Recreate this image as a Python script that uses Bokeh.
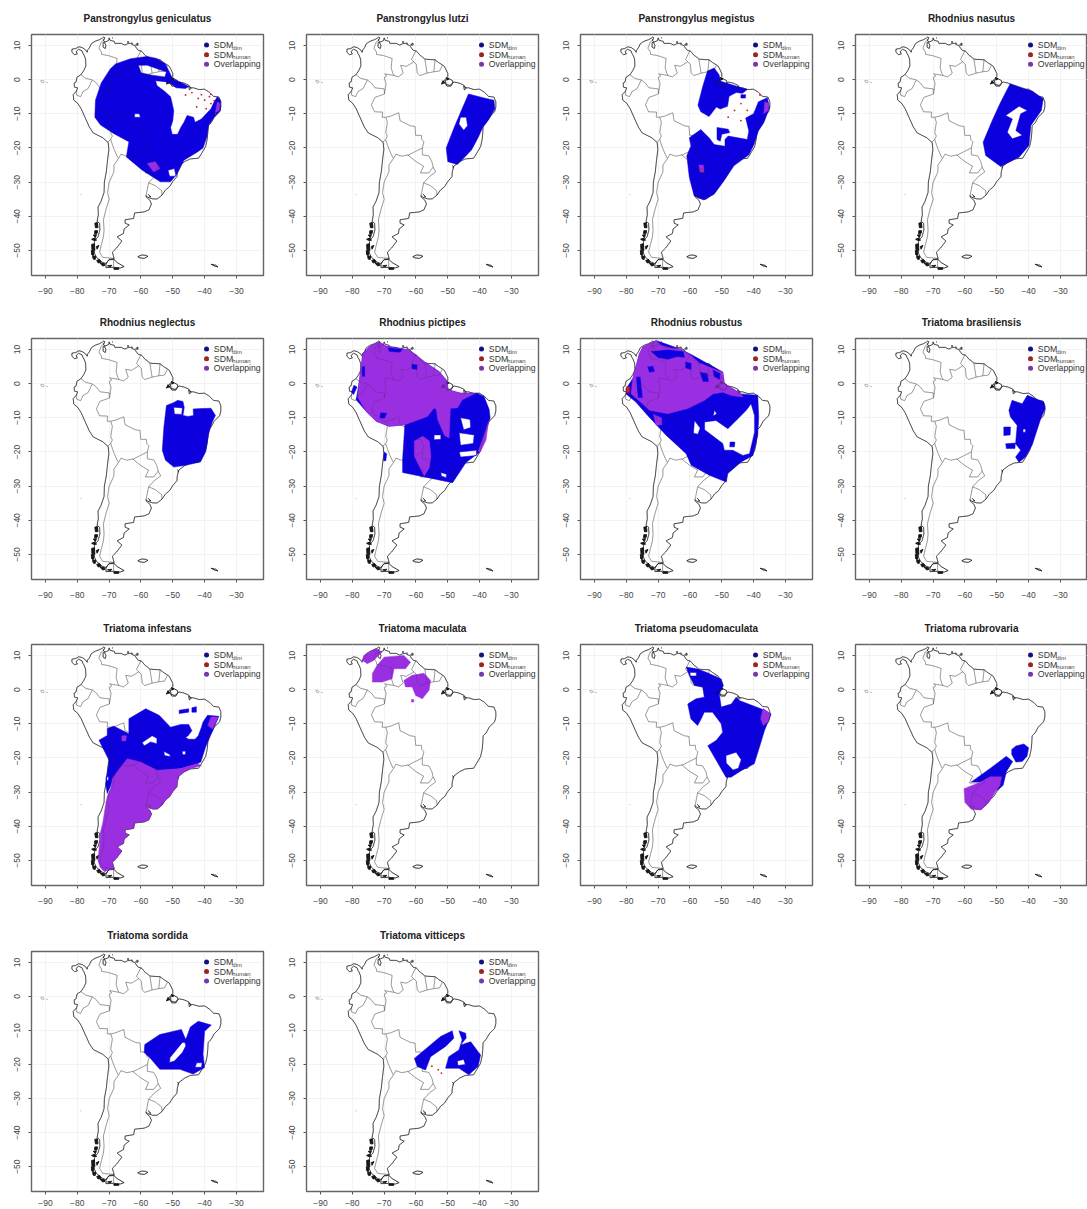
from bokeh.plotting import figure
from bokeh.layouts import column, row
from bokeh.models import Range1d, FixedTicker, Label
from bokeh.embed import file_html
from bokeh.resources import INLINE

# ---------------- base map, lon/lat ----------------
COAST_MAIN = [(-81.7,8.9),(-80.5,9.1),(-79.6,9.6),(-78.5,9.4),(-77.4,8.7),(-76.9,8.0),(-76.8,8.6),(-76.2,9.3),(-75.6,10.5),(-74.8,11.0),(-74.2,11.3),(-73.0,11.7),(-72.2,12.1),(-71.7,12.45),(-71.3,12.2),(-71.9,11.6),(-71.4,11.0),(-71.9,10.8),(-71.9,9.5),(-71.2,9.1),(-71.0,10.0),(-71.5,10.9),(-70.2,11.4),(-70.0,12.2),(-69.7,11.5),(-68.4,11.2),(-68.2,10.6),(-66.2,10.6),(-65.1,10.1),(-64.2,10.5),(-62.7,10.7),(-62.9,10.3),(-62.0,10.0),(-60.9,8.6),(-59.8,8.3),(-58.6,7.0),(-58.2,6.8),(-57.2,6.0),(-55.9,5.9),(-54.0,5.8),(-52.9,5.0),(-51.7,4.3),(-51.1,3.9),(-50.0,1.8),(-50.0,0.9),(-50.8,0.1),(-51.4,-0.6),(-50.9,-1.0),(-50.3,-1.9),(-49.0,-1.9),(-48.5,-1.0),(-48.0,-0.7),(-46.5,-1.0),(-45.0,-1.6),(-44.4,-2.4),(-43.5,-2.4),(-41.8,-2.9),(-40.0,-2.8),(-38.5,-3.7),(-37.2,-4.9),(-35.5,-5.1),(-34.9,-6.5),(-34.9,-8.0),(-35.3,-9.4),(-37.0,-11.0),(-38.0,-12.7),(-38.9,-13.5),(-39.0,-15.5),(-39.2,-17.5),(-39.7,-19.6),(-40.9,-21.5),(-41.9,-23.0),(-44.5,-23.2),(-46.3,-24.0),(-48.1,-25.3),(-48.6,-27.0),(-48.7,-28.4),(-50.0,-29.8),(-51.0,-31.3),(-52.3,-32.3),(-53.4,-33.8),(-54.9,-34.9),(-56.3,-34.9),(-57.9,-34.4),(-58.4,-33.9),(-58.4,-34.3),(-57.2,-35.3),(-56.7,-36.4),(-57.5,-38.1),(-59.0,-38.7),(-62.0,-39.0),(-62.3,-40.6),(-65.0,-41.0),(-65.0,-42.0),(-63.7,-42.5),(-65.3,-43.7),(-65.5,-45.0),(-67.5,-46.0),(-66.0,-47.2),(-67.7,-49.3),(-69.0,-50.5),(-68.4,-52.4),(-70.0,-52.6),(-71.0,-53.8),(-72.0,-53.5),(-74.0,-52.0),(-75.0,-50.0),(-74.5,-47.0),(-73.5,-46.0),(-72.9,-44.0),(-73.0,-42.0),(-73.8,-41.5),(-73.4,-39.5),(-73.5,-37.3),(-72.5,-35.5),(-71.6,-33.0),(-71.5,-30.0),(-70.9,-27.0),(-70.5,-23.5),(-70.1,-20.5),(-70.3,-18.4),(-72.0,-17.0),(-75.0,-15.6),(-76.2,-13.9),(-77.6,-11.0),(-78.8,-8.5),(-79.9,-6.9),(-81.1,-6.0),(-81.3,-4.4),(-80.3,-3.4),(-79.9,-2.4),(-80.9,-2.2),(-81.0,-1.0),(-80.4,-0.7),(-80.1,0.7),(-78.9,1.4),(-78.0,2.6),(-77.3,4.0),(-77.4,6.0),(-77.9,7.2),(-78.2,7.6),(-78.5,8.4),(-79.6,8.9),(-80.4,8.2),(-80.0,7.5),(-80.9,7.3),(-81.7,8.0),(-81.7,8.9)]
FJORD_ISLANDS = [
 [(-74.5,-42),(-73.7,-41.8),(-73.5,-43.3),(-74.3,-43.3),(-74.5,-42)],
 [(-74.5,-44.2),(-73.6,-44.2),(-73.8,-45),(-74.6,-45),(-74.5,-44.2)],
 [(-75,-45.5),(-74,-45.3),(-74.3,-46.2),(-75,-45.5)],
 [(-75.5,-46.7),(-74.5,-46.3),(-74,-47),(-75,-47),(-75.5,-46.7)],
 [(-75.5,-48.2),(-74.6,-48),(-74.5,-50),(-75.4,-49.8),(-75.5,-48.2)],
 [(-75.6,-50),(-74.7,-50.2),(-75,-51.5),(-75.5,-51.2),(-75.6,-50)],
 [(-75.2,-51.7),(-74.2,-51.6),(-74.4,-52.6),(-75,-52.5),(-75.2,-51.7)],
 [(-73.9,-52.9),(-73,-52.6),(-72.5,-53.5),(-73.5,-53.6),(-73.9,-52.9)],
 [(-72.8,-53.8),(-71.6,-53.7),(-71.3,-54.3),(-72,-54.5),(-72.8,-53.8)],
 [(-70.5,-54.5),(-69.2,-54.3),(-69.5,-54.7),(-70.5,-54.5)],
 [(-73.2,-48.5),(-74,-48.8),(-73.8,-49.6),(-73.2,-48.5)],
 [(-68.5,-55.1),(-67,-55.1),(-67,-55.5),(-68.5,-55.5),(-68.5,-55.1)],
 [(-51.5,-0.3),(-50.9,-0.9),(-52,-1.3),(-51.5,-0.3)],
 [(-50.4,0.6),(-49.6,0.3),(-50.2,-0.1),(-50.4,0.6)],
]
ISLANDS = [
 [(-70,-52.7),(-68.5,-52.6),(-67.5,-53.5),(-65.3,-54.7),(-66.5,-55.1),(-68.6,-54.9),(-71,-55),(-71,-54),(-70.5,-53.2),(-70,-52.7)],
 [(-61,-51.8),(-59.8,-51.3),(-58.5,-51.4),(-57.8,-51.7),(-59,-52.3),(-60.5,-52.1),(-61,-51.8)],
 [(-38,-54),(-36.5,-54.3),(-35.8,-54.8),(-37,-54.5),(-38,-54)],
 [(-50.8,-0.2),(-49.5,0.2),(-48.5,-0.3),(-48.4,-1),(-49.3,-1.7),(-50.5,-1.4),(-50.8,-0.2)],
 [(-45,-1.9),(-44.2,-2.5),(-44.8,-3.0),(-45,-1.9)],
 [(-61.7,10.2),(-61,10.7),(-60.9,10.1),(-61.7,10.1)],
 [(-64.3,11),(-63.9,11.1),(-63.9,10.9),(-64.3,11)],
 [(-69.1,12.3),(-68.8,12.1)],
 [(-48.6,-25.2),(-48.1,-25.6),(-48.5,-25.8)],
 [(-57.8,-33.5),(-56.9,-34.3),(-57.4,-34.2)],
]
FAINT_ISLANDS = [
 [(-91.5,-0.3),(-90.8,-0.2),(-90.4,-0.7),(-91,-1),(-91.5,-0.3)],
 [(-89.8,-0.8),(-89.3,-0.9)],
 [(-79,-33.6),(-78.7,-33.7)],
]
BORDERS = [
 [(-71.3,11.8),(-72.5,11),(-73.2,9.2),(-72.4,8),(-72.4,7.4),(-70.1,7),(-67.5,6.2),(-67.8,3.5),(-67.3,1.9),(-66.9,1.2)],
 [(-66.9,1.2),(-65.5,0.8),(-64,1.9),(-64.8,4.2),(-63,3.9),(-60.7,5.2)],
 [(-60.7,5.2),(-61.4,5.9),(-60.0,8.5)],
 [(-60.7,5.2),(-59.9,4.5),(-59.6,1.9),(-58.8,1.2),(-56.5,1.9)],
 [(-56.5,1.9),(-57.2,5.9)],
 [(-54.0,5.8),(-54.4,2.3)],
 [(-56.5,1.9),(-54.4,2.3),(-52.6,2.5),(-51.7,4.2)],
 [(-66.9,1.2),(-69.8,1.7),(-69.2,1.0),(-70,0.6),(-69.4,-1.1),(-69.9,-4.2)],
 [(-78.8,1.4),(-77.4,0.4),(-75.3,-0.1)],
 [(-75.3,-0.1),(-74,-1),(-72.9,-2.4),(-70,-2.7),(-69.9,-4.2)],
 [(-80.3,-3.4),(-80.3,-4.5),(-79,-5),(-78.2,-3.5),(-76.6,-2.6),(-75.3,-0.1)],
 [(-69.9,-4.2),(-72.9,-5.2),(-74,-7.4),(-73,-9.4),(-70.5,-9.5),(-70.6,-11)],
 [(-70.6,-11),(-69.5,-11),(-69.0,-12.5),(-69.5,-15.5),(-69,-16.5),(-69.5,-17.5)],
 [(-69.5,-11),(-68,-10.7),(-65.4,-9.7),(-65,-12),(-61.8,-13.5),(-60.3,-13.7),(-60.1,-16.3),(-58.3,-16.3),(-58.2,-17.5),(-57.5,-18.2),(-58,-20)],
 [(-58,-20),(-62.3,-22),(-64.5,-22.4),(-66.3,-21.8),(-67,-23)],
 [(-69.5,-17.5),(-69,-19),(-68.4,-20.5),(-67.2,-23)],
 [(-70.4,-18.3),(-69.5,-17.5)],
 [(-67,-23),(-68.5,-25),(-68.5,-27),(-70,-30),(-70.5,-33),(-70,-35),(-71,-38),(-71.8,-41),(-71.6,-44),(-71.8,-46),(-72.5,-48.5),(-73,-50.5),(-72,-52),(-68.5,-52.3)],
 [(-68.6,-52.6),(-68.6,-54.9)],
 [(-62.6,-22),(-60,-24),(-57.6,-25.3),(-58.6,-27.3),(-56,-27.3),(-54.6,-25.6)],
 [(-58,-20),(-58,-22),(-56,-22.3),(-55,-24),(-54.6,-25.6)],
 [(-54.6,-25.6),(-53.8,-27),(-55.7,-28.3),(-57.6,-30.2)],
 [(-57.6,-30.2),(-58.2,-33),(-58.4,-33.9)],
 [(-57.6,-30.2),(-55.5,-31),(-53.5,-32.5),(-53.4,-33.8)],
]

# ---------------- chart labels ----------------
X_TICKS = [-90,-80,-70,-60,-50,-40,-30]
Y_TICKS = [-50,-40,-30,-20,-10,0,10]
LEGEND_MAIN = ["SDM","SDM","Overlapping"]
LEGEND_SUB = ["dim","human"]
TITLES = ["Panstrongylus geniculatus","Panstrongylus lutzi","Panstrongylus megistus","Rhodnius nasutus",
          "Rhodnius neglectus","Rhodnius pictipes","Rhodnius robustus","Triatoma brasiliensis",
          "Triatoma infestans","Triatoma maculata","Triatoma pseudomaculata","Triatoma rubrovaria",
          "Triatoma sordida","Triatoma vitticeps"]

# ---------------- species ranges: polygon = [outer ring, hole, hole...] ----------------
GENICULATUS_DIM = [[
 [(-58.1,6.8),(-55,6.2),(-52.3,4.6),(-50.7,1.5),(-50,0.2),(-47.5,-0.8),(-45,-2),(-46,-2.6),(-49,-2.4),(-50.5,-1.2),(-52.5,-0.6),(-55.4,-0.3),(-55,-1.7),(-52.5,-3.5),(-50.7,-5),(-49.7,-9),(-50,-12),(-50.7,-14),(-50.2,-16),(-48.5,-16),(-47.5,-14),(-46.5,-12.5),(-45.5,-10.5),(-43.5,-11),(-43,-12.5),(-41,-11.5),(-40,-10.5),(-38,-8.5),(-37,-6.5),(-36,-5),(-35,-6),(-35,-9),(-37,-11),(-38.7,-13.3),(-39.3,-16.8),(-40.5,-20),(-42,-21),(-46.5,-23.6),(-48.6,-27.5),(-50.7,-29.9),(-53.9,-29.9),(-59.6,-26.5),(-64.6,-22.6),(-63.8,-18.2),(-68.5,-15.8),(-72.7,-13.3),(-74.5,-11),(-74.3,-6),(-72.5,-1),(-69.6,3.2),(-68,4.6),(-63.3,6.1)],
 [(-60.8,4.2),(-58,4.2),(-52,2.2),(-52.5,0.8),(-56.5,1.3),(-60,2)],
 [(-62,-10),(-60.5,-10),(-60.2,-11),(-62,-11)],
 [(-51.5,-26.5),(-49.5,-26),(-49,-28.2),(-51,-28.3)],
]]
GENICULATUS_OVER = [[[(-58,-24.5),(-55.5,-24),(-54,-26),(-56,-27)]], [[(-36,-6.5),(-35.2,-7),(-35.4,-9),(-36.6,-9.6)]]]
GENICULATUS_RED = [(-44,-3.8),(-42,-5.5),(-41,-4.4),(-40,-6),(-38.5,-5),(-38,-7),(-37,-6.2),(-42.5,-8),(-39.5,-8.5),(-46,-4.5),(-36.5,-10),(-38,-4.3)]

LUTZI_DIM = [[
 [(-43.5,-4.2),(-38,-5.5),(-35.5,-6),(-35.2,-8.5),(-37,-11.5),(-39,-14),(-40.5,-17),(-42.5,-20.5),(-44.5,-22.5),(-47,-24.8),(-50,-24),(-50.5,-20),(-48,-14),(-45.5,-8.5)],
 [(-46,-11),(-44.2,-11),(-43.8,-13.5),(-45,-14.8),(-46.5,-13)],
]]

MEGISTUS_DIM = [
 [[(-52.4,3.4),(-50.9,1.5),(-50.3,-0.5),(-45.1,-2),(-42,-2.9),(-43.5,-4),(-45.5,-3.8),(-47.7,-4.9),(-48.2,-7.8),(-50.5,-8.6),(-51.7,-8),(-54,-10.8),(-56.6,-9.4),(-57.5,-7.5),(-56,-2),(-54.5,2.5)]],
 [[(-35.7,-5.3),(-35,-8.2),(-36.8,-12.6),(-38.5,-15),(-39.9,-19),(-41.5,-22),(-46.2,-25.2),(-49.3,-29.6),(-52.4,-33.5),(-55.6,-35.2),(-58.7,-34),(-60.2,-28.6),(-61,-22.3),(-59.7,-19.4),(-60.2,-17),(-56.6,-14.6),(-54,-17),(-52.4,-19),(-49,-19.5),(-49,-17.5),(-48,-16.5),(-45,-17),(-42,-17.5),(-41.5,-15),(-42.5,-11.2),(-40,-10),(-38.5,-6.5)]],
 [[(-51.5,-14),(-48,-14.5),(-47.5,-15.5),(-50,-16),(-50.5,-18),(-51.5,-17.5)]],
 [[(-44,-4.4),(-42.5,-4.4),(-42.6,-5.4),(-44,-5.4)]],
]
MEGISTUS_OVER = [[[(-36.5,-6.5),(-35.2,-7),(-35.4,-9),(-36.8,-10)]], [[(-57.2,-25),(-55.8,-25),(-55.6,-27),(-56.8,-27)]]]
MEGISTUS_RED = [(-56.5,-26.2),(-56,-27),(-44,-7),(-46,-9),(-42,-9),(-48,-11),(-44,-12),(-38,-4.5)]

NASUTUS_DIM = [[
 [(-45.8,-1.2),(-38.8,-3.4),(-35.4,-5.6),(-36,-9),(-39.3,-13.4),(-39.9,-19.3),(-43,-22.7),(-48.8,-25.4),(-53.5,-22.2),(-54.3,-18.3),(-51.4,-11.9),(-48.8,-6.6)],
 [(-43,-7.8),(-40.4,-9),(-42.5,-10),(-44,-14.9),(-42,-16.3),(-45.1,-17.3),(-46.7,-15.4),(-45.1,-11.5),(-47.2,-10.5)],
]]

NEGLECTUS_DIM = [[
 [(-52,-6.4),(-49.6,-5.5),(-48.5,-4.9),(-46.8,-5.2),(-46.4,-7),(-46.8,-9.3),(-45.2,-9.6),(-43.5,-9.3),(-43.6,-7.4),(-41,-7.3),(-38,-7.2),(-36.6,-9.3),(-37.6,-11.2),(-38.7,-14.6),(-39.7,-20),(-41.3,-22.9),(-46,-23.9),(-49.7,-24.4),(-52.3,-22.4),(-53.3,-19.5),(-52.8,-12.7)],
 [(-49.7,-6.9),(-47,-7.1),(-47.2,-9),(-49.5,-8.9)],
]]

PICTIPES_DIM = [[
 [(-71.5,12.2),(-69.5,11),(-66,10.5),(-62,9.8),(-57.4,6.4),(-52.7,3.5),(-50.1,0.6),(-50,-1.8),(-45.9,-2.8),(-40.7,-2.8),(-38.6,-3.8),(-37,-7.6),(-36.7,-10),(-38.6,-15.9),(-40.2,-20.2),(-44.3,-23.1),(-48.5,-29),(-64.2,-26),(-64.2,-22.2),(-63.5,-12),(-68.4,-12.5),(-72.5,-11),(-75.7,-8.1),(-78.8,-4.7),(-78,-0.5),(-77.2,5),(-76.7,8.8),(-74.6,10.8)],
 [(-46,-10),(-43,-10.5),(-42.8,-12.8),(-45,-13.5)],
 [(-46.4,-14.4),(-41.7,-15),(-42,-17.5),(-46,-18)],
 [(-46.4,-20),(-41,-19.5),(-41,-21),(-46,-21.5)],
 [(-54.3,-15),(-52.2,-15),(-52.2,-16.3),(-54.3,-16.4)],
 [(-52.2,-26),(-50.4,-26.5),(-50.5,-27.5),(-52,-27)],
],
 [[(-79.5,-0.5),(-78.5,-1),(-79.6,-3.2),(-80.3,-2.5)]],
 [[(-70,-20),(-69.2,-20.5),(-69.5,-22.6),(-70.2,-22.5)]],
]
PICTIPES_OVER = [[
 [(-71.5,12.2),(-69.5,11),(-66,10.5),(-62,9.8),(-57.4,6.4),(-52.7,3.5),(-50.1,0.6),(-50,-1.8),(-45.9,-2.8),(-41.2,-2.8),(-45.4,-4.7),(-47,-7.1),(-49.2,-7.2),(-49.4,-12),(-49.6,-15.9),(-51,-15.2),(-53.2,-10.5),(-53.6,-7.6),(-54.3,-7.1),(-56.4,-9.6),(-62,-11.5),(-63.5,-12),(-68.4,-12.5),(-72.5,-11),(-75.7,-8.1),(-78.3,-4),(-78,-0.5),(-77.2,5),(-76.7,8.8),(-74.6,10.8)],
 [(-69,10.6),(-64,10.1),(-65,9.0),(-68.5,9.3)],
 [(-61.5,5.8),(-59.5,5.6),(-59.6,4),(-61.3,4.2)],
 [(-77,5),(-76,5.2),(-76,2),(-77,2)],
 [(-71.2,-8.4),(-69,-8.6),(-69.8,-10.2),(-71.5,-10.2)],
],
 [[(-57.9,-15.4),(-55.8,-16.8),(-55.3,-21.2),(-55.8,-24.6),(-57.4,-27),(-59,-24.1),(-60.5,-21.2),(-60.5,-16.8)]],
 [[(-38.2,-14),(-37.2,-11),(-38,-16.5),(-39.8,-20),(-40.4,-19.8)]],
]

ROBUSTUS_DIM = [[
 [(-70.6,12.6),(-63.3,10.2),(-59.6,8.5),(-49.7,3.4),(-49.2,0),(-43.9,-3),(-38.7,-3.4),(-38.4,-9.8),(-38.7,-15.1),(-40.2,-21),(-43.9,-22.9),(-48.1,-26.3),(-48.6,-28.8),(-53.9,-26.8),(-59.6,-23.9),(-61.2,-20.5),(-67.5,-15.1),(-73.3,-9.3),(-77,-5.4),(-80.1,-3),(-80.1,-1.5),(-78,1.4),(-75.9,8.7),(-74.8,10.7)],
 [(-40.8,-5.9),(-39.7,-9.3),(-39.7,-14.2),(-41.3,-20.5),(-43.4,-21),(-46.5,-19.5),(-49.2,-19.5),(-49.7,-17.5),(-55.4,-13.5),(-55.4,-11.2),(-51.8,-10.8),(-48.1,-13.2),(-44.4,-9.8),(-42.3,-7.8)],
 [(-58.6,-10.8),(-56.8,-13),(-57.5,-14.8),(-58.9,-14.5)],
 [(-52.3,-7.8),(-51.6,-8.8),(-52.7,-9.5)],
],
 [[(-47.4,-17.1),(-45.9,-17.1),(-46,-18.5),(-47.5,-18.5)]],
]
ROBUSTUS_OVER = [[
 [(-74.8,10.7),(-70.6,12.6),(-69,11.2),(-66,10.4),(-63.3,10.2),(-60,8.5),(-57,6),(-53,4.5),(-49.7,3.4),(-49.2,0),(-43.9,-3),(-43.4,-3.9),(-47,-3.5),(-49.7,-2.5),(-52.8,-3),(-55.4,-4.9),(-60.7,-7.3),(-67,-8.8),(-72.7,-7.8),(-76,-5),(-78.5,-3),(-78,1.4),(-75.9,8.7)],
 [(-72.5,9.5),(-67,10),(-62,9.5),(-61.5,7.5),(-64,7.8),(-67,7),(-70,7.5)],
 [(-73.5,5),(-71.5,5.2),(-71,3.5),(-72.8,3.2)],
 [(-61.5,6.5),(-59.5,6),(-59.5,4),(-61.5,4.5)],
 [(-57,3.5),(-54.5,3),(-54,0.5),(-56,0.5)],
 [(-53,4.2),(-50.5,3),(-50.5,1),(-52.5,2)],
 [(-77,2),(-75.5,2),(-74.8,-4.2),(-76.4,-4.2)],
],
 [[(-71.5,-9),(-69,-10),(-68.8,-12),(-70.6,-12.2)]],
]
ROBUSTUS_HUMAN = [[[(-80,-0.9),(-79,-0.9),(-79,-2.6),(-80,-2.6)]]]

BRASILIENSIS_DIM = [
 [[(-40.4,-3.4),(-35.2,-5.4),(-34.8,-7.3),(-36.2,-10.3),(-38.9,-18),(-41,-21.5),(-43,-23),(-44.1,-21.5),(-42.5,-19.5),(-44.1,-17.6),(-43.6,-12.2),(-45.7,-9.8),(-46.2,-7.8),(-45.2,-4.9),(-42,-5.9)],
  [(-41.7,-13.3),(-41,-13.3),(-41,-14.2),(-41.8,-14.2)]],
 [[(-47.8,-12.7),(-45.7,-12.7),(-45.8,-15),(-47.8,-15.2)]],
 [[(-47.2,-17.6),(-44.2,-17.4),(-44.3,-19),(-47,-19)]],
]

INFESTANS_DIM = [
 [[(-58.5,-5.6),(-54.3,-7.5),(-50.7,-11),(-47.5,-10.2),(-45,-10.2),(-44,-12),(-45.2,-13.5),(-46,-14),(-45,-14.5),(-43,-14.5),(-42,-13.5),(-41,-11),(-40.5,-9.5),(-39.1,-7.5),(-35.5,-7.8),(-39.7,-16.8),(-41.2,-21.2),(-42.3,-21.7),(-47.5,-23.1),(-54.9,-24),(-60.1,-22),(-64.3,-21),(-67.5,-24.5),(-69,-27),(-70.6,-30.4),(-71.1,-27.5),(-70,-20.7),(-71.1,-18.7),(-73.2,-14.8),(-70.6,-13.4),(-70.6,-11.4),(-68.5,-10.7),(-63.8,-12.9),(-63.8,-8.5)],
  [(-59.6,-15.5),(-56.5,-13.5),(-55,-14.2),(-55,-15.8),(-57,-15.3),(-59,-16.5)],
  [(-52.8,-18),(-51,-19),(-50.7,-19.6),(-52.6,-19.3)],
  [(-47,-18),(-46,-18),(-46,-19),(-47,-19)],
  [(-71,-25.5),(-70.2,-25.5),(-70.2,-26.5),(-71,-26.5)]],
 [[(-48,-6),(-45,-5.6),(-45,-6.6),(-48,-7)]],
 [[(-44,-5.3),(-42.6,-5),(-42.6,-6.6),(-44,-6.6)]],
]
INFESTANS_OVER = [
 [[(-64.3,-20.2),(-60.1,-21.2),(-54.9,-23.6),(-47.5,-23.1),(-42.3,-21.7),(-41,-22.2),(-44.5,-23.2),(-46.3,-24),(-48.1,-25.3),(-48.6,-27),(-48.7,-28.4),(-50,-29.8),(-51,-31.3),(-52.3,-32.3),(-53.4,-33.8),(-54.9,-34.9),(-56.3,-34.9),(-57.9,-34.4),(-58.4,-34.3),(-57.2,-35.3),(-56.7,-36.4),(-57.5,-38.1),(-59,-38.7),(-62,-39),(-62.3,-40.6),(-65,-41),(-65,-42),(-63.7,-42.5),(-65.3,-43.7),(-65.5,-45),(-67.5,-46),(-66,-47.2),(-67.7,-49.3),(-69,-50.5),(-68.4,-52.4),(-70,-52.7),(-71.5,-53.3),(-72.8,-52),(-73.5,-50),(-73.2,-47),(-72.8,-44),(-72.8,-42),(-72,-39),(-71.5,-36),(-71,-33),(-70.5,-31),(-69.5,-29),(-69,-26),(-67.5,-24)]],
 [[(-66,-13.5),(-64.5,-13.5),(-64.8,-15),(-66,-15)]],
 [[(-38,-8),(-35.8,-8),(-37.5,-11.5),(-39,-10.5)]],
]

MACULATA_OVER = [
 [[(-76.4,10),(-72.7,12),(-70.6,11),(-72,9.8),(-73.2,8.6),(-75.3,7.6),(-76.9,8.6)]],
 [[(-72.2,7.1),(-70,9.5),(-63.8,10),(-61.7,8),(-63.3,6.1),(-66.9,6.1),(-67.5,3.2),(-70.6,2.2),(-73.7,2.2),(-73.7,4.7)]],
 [[(-63.8,2.7),(-61.2,4.2),(-57.5,4.8),(-55.4,2.7),(-55.9,-0.2),(-58,-2.7),(-60.1,-1.7),(-61.2,0.8),(-63.3,0.8)]],
 [[(-61.4,-2.9),(-60.7,-2.9),(-60.7,-3.6),(-61.4,-3.6)]],
]

PSEUDOMACULATA_DIM = [[
 [(-61.2,6.6),(-57.6,6),(-54.9,5.1),(-50.2,3.1),(-49.5,1.2),(-50.8,-1.2),(-50.2,-5.1),(-47,-4.2),(-45.5,-2.2),(-44.5,-3.2),(-37.7,-5.6),(-34.5,-7.1),(-36.6,-12),(-37.7,-15.4),(-39.8,-21.7),(-43.9,-23.7),(-47.1,-25.6),(-48.7,-25.6),(-54.4,-16.4),(-51.8,-14.9),(-49.7,-12.5),(-50.2,-10),(-52.9,-6.6),(-55.5,-6.6),(-56.5,-8.6),(-57.6,-10.5),(-59.7,-8.6),(-60.7,-4.2),(-58.1,-2.7),(-55.5,-2.2),(-56,0.7),(-58.6,1.2),(-60.2,4.1)],
 [(-60,5),(-58,5),(-58,4),(-60,4)],
 [(-48.7,-19.3),(-45.5,-18.3),(-43.9,-20.5),(-44.8,-23),(-46.5,-23.5),(-48.6,-21.5)],
]]
PSEUDOMACULATA_OVER = [[[(-37,-5.5),(-34.7,-7),(-35.5,-9.5),(-37,-10.5),(-37.8,-8.5)]]]

RUBROVARIA_DIM = [
 [[(-58,-27),(-52,-23),(-47,-19.5),(-45,-21),(-47,-24),(-48,-28),(-50,-29.5),(-49,-26),(-52,-25.5),(-55,-27)]],
 [[(-44,-16.5),(-41.5,-15.9),(-40,-17),(-40.5,-19.5),(-42,-21),(-44,-21.2),(-45.3,-19),(-45.3,-17.5)]],
]
RUBROVARIA_OVER = [[[(-60.3,-29),(-55,-27),(-52,-25.5),(-48.5,-25.5),(-49,-28),(-50.5,-30),(-52.5,-33),(-55,-35.2),(-58,-35),(-60,-33)]]]

SORDIDA_DIM = [[
 [(-58.8,-14.1),(-54.1,-11.2),(-47.3,-9.7),(-46,-12.5),(-45.7,-12.1),(-44.5,-9),(-42,-7.3),(-37.9,-8.4),(-40,-10.2),(-40.5,-17),(-40,-20.9),(-43.6,-22.8),(-47.8,-21.4),(-54.1,-21.4),(-57.2,-18),(-59,-16.5)],
 [(-50.9,-18),(-47,-13.5),(-46.2,-13.5),(-45.9,-14.5),(-47,-16.5),(-49.5,-19),(-51,-19.4)],
 [(-42.5,-19.5),(-40.8,-19.5),(-41,-20.8),(-43,-20.8)],
]]

VITTICEPS_DIM = [
 [[(-60.5,-18.2),(-52.3,-11.8),(-48.6,-10.1),(-48.1,-12.3),(-50.7,-14.7),(-55.4,-17.7),(-57,-21.6),(-59.6,-20.6)]],
 [[(-46.5,-10.1),(-44.4,-10.8),(-44.2,-12.2),(-46,-14.3),(-42.8,-13.3),(-39.7,-17.2),(-40.5,-20.6),(-43.4,-23),(-46.5,-21.1),(-50.7,-21.1),(-49.7,-17.7),(-46.5,-15.7),(-45.5,-12.8)],
  [(-47,-19),(-45,-18.5),(-44.5,-20),(-46.8,-20.3)]],
]
VITTICEPS_RED = [(-55,-20.5),(-53,-21.5),(-52,-22.5)]

SPECIES_DIM = [GENICULATUS_DIM,LUTZI_DIM,MEGISTUS_DIM,NASUTUS_DIM,NEGLECTUS_DIM,PICTIPES_DIM,ROBUSTUS_DIM,BRASILIENSIS_DIM,INFESTANS_DIM,[],PSEUDOMACULATA_DIM,RUBROVARIA_DIM,SORDIDA_DIM,VITTICEPS_DIM]
SPECIES_OVER = [GENICULATUS_OVER,[],MEGISTUS_OVER,[],[],PICTIPES_OVER,ROBUSTUS_OVER,[],INFESTANS_OVER,MACULATA_OVER,PSEUDOMACULATA_OVER,RUBROVARIA_OVER,[],[]]
SPECIES_HUMAN = [[],[],[],[],[],[],ROBUSTUS_HUMAN,[],[],[],[],[],[],[]]
SPECIES_RED = [GENICULATUS_RED,[],MEGISTUS_RED,[],[],[],[],[],[],[],[],[],[],VITTICEPS_RED]

BLUE, RED, PURPLE = "#0C00DE", "#C81E1E", "#9A2FE2"
LEG_COLORS = ["#12127E","#A02222","#7636AC"]
FONT = "Liberation Sans"

def lines(rings):
    return [[c[0] for c in r] for r in rings], [[c[1] for c in r] for r in rings]

def polys(data):
    xs = [[[[c[0] for c in ring] for ring in poly] for poly in data]]
    ys = [[[[c[1] for c in ring] for ring in poly] for poly in data]]
    return xs, ys

def draw_map(p, alpha=1.0):
    xs, ys = lines(BORDERS)
    p.multi_line(xs, ys, line_color="#8a8a8a" if alpha == 1 else "#222222", line_width=0.6, line_alpha=alpha)
    xs, ys = lines([COAST_MAIN])
    p.multi_line(xs, ys, line_color="#2a2a2a", line_width=0.75, line_alpha=alpha)
    xs, ys = lines(ISLANDS)
    p.multi_line(xs, ys, line_color="#222222", line_width=0.8, line_alpha=alpha)
    xs, ys = lines(FJORD_ISLANDS)
    p.patches(xs, ys, fill_color="#1a1a1a", fill_alpha=alpha, line_color="#111111", line_width=0.8, line_alpha=alpha)
    xs, ys = lines(FAINT_ISLANDS)
    p.multi_line(xs, ys, line_color="#aaaaaa", line_width=0.8, line_alpha=alpha)

def panel(i, left, right, top, h, last_row=False):
    fw = 232
    fh = 240 if last_row else 241
    p = figure(width=left+fw+right, height=h, x_range=Range1d(-94.4,-21.5), y_range=Range1d(-57.3,13.2),
               output_backend="svg", toolbar_location=None, title=TITLES[i],
               min_border_left=left, min_border_right=right, min_border_top=top,
               min_border_bottom=h-top-fh)
    p.title.text_font = FONT
    p.title.text_font_size = "10px"
    p.title.text_font_style = "bold"
    p.title.text_color = "#222222"
    p.title.align = "center"
    p.title.vertical_align = "top"
    p.title.standoff = 18
    p.xaxis.ticker = FixedTicker(ticks=X_TICKS)
    p.yaxis.ticker = FixedTicker(ticks=Y_TICKS)
    p.yaxis.major_label_orientation = "vertical"
    for ax in (p.xaxis[0], p.yaxis[0]):
        ax.major_label_text_font = FONT
        ax.major_label_text_font_size = "8.5px"
        ax.major_label_text_color = "#444444"
        ax.axis_line_color = None
        ax.major_tick_line_color = "#555555"
        ax.major_tick_in = 0
        ax.major_tick_out = 3
        ax.minor_tick_line_color = None
    p.xaxis[0].major_label_standoff = 5 if last_row else 9
    p.yaxis[0].major_label_standoff = 8
    p.grid.grid_line_color = "#e6e6e6"
    p.grid.grid_line_dash = "1 1"
    p.grid.grid_line_width = 1
    p.outline_line_color = "#666666"
    p.outline_line_width = 1.4
    p.background_fill_color = "white"

    draw_map(p)
    if SPECIES_DIM[i]:
        xs, ys = polys(SPECIES_DIM[i])
        p.multi_polygons(xs, ys, fill_color=BLUE, line_color=BLUE, line_width=0.5)
    if SPECIES_OVER[i]:
        xs, ys = polys(SPECIES_OVER[i])
        p.multi_polygons(xs, ys, fill_color=PURPLE, line_color=PURPLE, line_width=0.5)
    if SPECIES_HUMAN[i]:
        xs, ys = polys(SPECIES_HUMAN[i])
        p.multi_polygons(xs, ys, fill_color=RED, line_color=RED, line_width=0.5)
    if SPECIES_RED[i]:
        p.scatter([c[0] for c in SPECIES_RED[i]], [c[1] for c in SPECIES_RED[i]], size=1.8,
                  fill_color=RED, line_color=None)
    draw_map(p, alpha=0.3)

    # legend, top right of each frame
    leg_y = [10.1, 7.3, 4.5]
    p.scatter([-39.4]*3, leg_y, size=5, fill_color=LEG_COLORS, line_color=None)
    for k, y in enumerate(leg_y):
        p.add_layout(Label(x=-37.1, y=y, text=LEGEND_MAIN[k], text_font=FONT, text_font_size="8.7px",
                           text_color="#333333", text_baseline="middle"))
    for k in range(2):
        p.add_layout(Label(x=-31.3, y=leg_y[k]-0.75, text=LEGEND_SUB[k], text_font=FONT, text_font_size="6px",
                           text_color="#444444", text_baseline="middle"))
    return p

LEFTS = [31, 23, 23, 23]
RIGHTS = [20, 19, 20, 0]
TOPS = [34, 31, 31, 31]
HEIGHTS = [307, 306, 307, 289]
rows = []
idx = 0
for r, h in enumerate(HEIGHTS):
    cells = []
    for c in range(4):
        if idx < len(TITLES):
            cells.append(panel(idx, LEFTS[c], RIGHTS[c], TOPS[r], h, last_row=(r == 3)))
            idx += 1
    rows.append(row(*cells))
page = column(*rows)
open("out.html", "w").write(file_html(page, INLINE))
